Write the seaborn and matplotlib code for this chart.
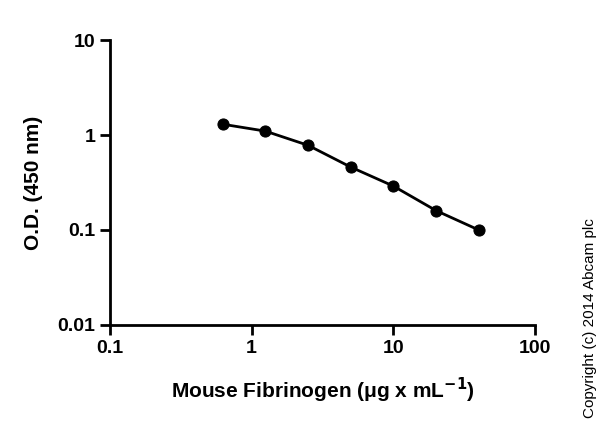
import seaborn as sns
import matplotlib.pyplot as plt
import matplotlib.ticker as mticker
import pandas as pd

conc = [0.625, 1.25, 2.5, 5, 10, 20, 40]
od = [1.3, 1.1, 0.78, 0.46, 0.29, 0.16, 0.10]
df = pd.DataFrame({"conc": conc, "od": od})

sns.set_theme(style="ticks")
plt.rcParams['font.family'] = ['Liberation Sans', 'DejaVu Sans']
plt.rcParams['text.color'] = 'black'
plt.rcParams['axes.labelcolor'] = 'black'
plt.rcParams['xtick.color'] = 'black'
plt.rcParams['ytick.color'] = 'black'

fig = plt.figure(figsize=(6, 4.22), dpi=100)
ax = fig.add_axes([0.183, 0.23, 0.709, 0.675])
sns.lineplot(data=df, x="conc", y="od", marker="o", color="black",
             markersize=8, linewidth=2, markeredgecolor="black", ax=ax)
ax.set_xscale("log")
ax.set_yscale("log")
ax.set_xlim(0.1, 100)
ax.set_ylim(0.01, 10)
ax.xaxis.set_major_formatter(mticker.FuncFormatter(lambda v, p: f"{v:g}"))
ax.yaxis.set_major_formatter(mticker.FuncFormatter(lambda v, p: f"{v:g}"))
ax.xaxis.set_minor_locator(mticker.NullLocator())
ax.yaxis.set_minor_locator(mticker.NullLocator())
ax.tick_params(which="major", length=7, width=2, labelsize=14, color="black")
for lbl in ax.get_xticklabels() + ax.get_yticklabels():
    lbl.set_fontweight("bold")
for s in ["left", "bottom"]:
    ax.spines[s].set_linewidth(2)
    ax.spines[s].set_color("black")
sns.despine(ax=ax)
ax.set_xlabel("Mouse Fibrinogen (μg x mL$^{\\mathbf{-1}}$)", fontsize=15,
              fontweight="bold", labelpad=14)
ax.set_ylabel("O.D. (450 nm)", fontsize=15, fontweight="bold", labelpad=10)
fig.text(0.983, 0.01, "Copyright (c) 2014 Abcam plc", rotation=90, fontsize=11,
         ha="center", va="bottom")
fig.savefig("out.png", dpi=100)
